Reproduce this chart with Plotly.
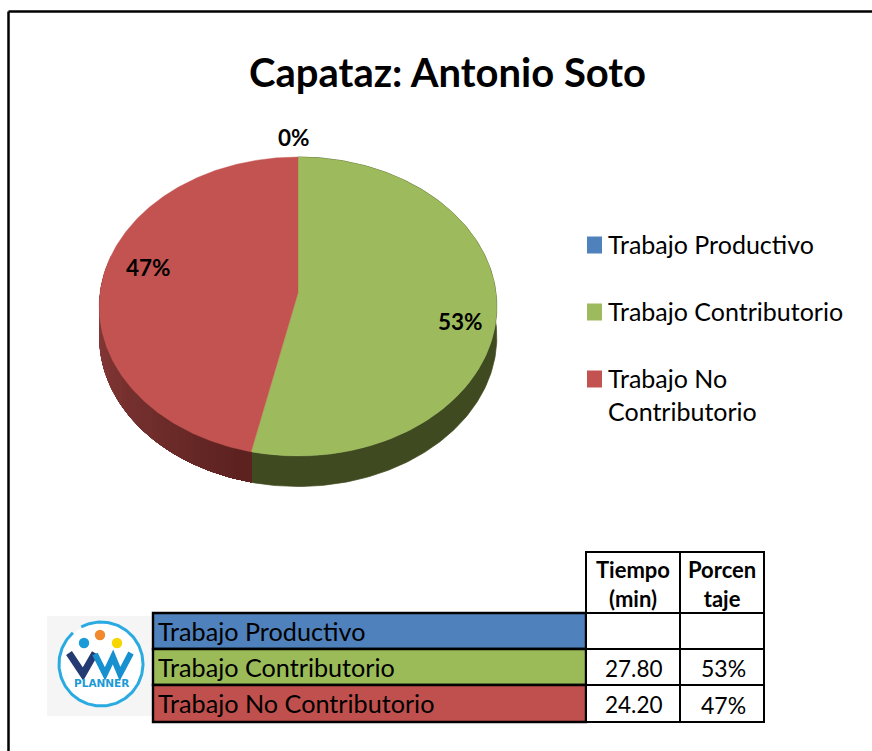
import numpy as np
import plotly.graph_objects as go

# ---------- data ----------
TITLE = "Capataz: Antonio Soto"
categories = ["Trabajo Productivo", "Trabajo Contributorio", "Trabajo No Contributorio"]
tiempo_min = [0.0, 27.80, 24.20]
tiempo_labels = ["", "27.80", "24.20"]
porcentaje_labels = ["", "53%", "47%"]
header_tiempo = "Tiempo<br>(min)"
header_porcentaje = "Porcen<br>taje"

# ---------- style / layout ----------
W, H = 872, 751
FONT = "Lato"
BLUE, GREEN, RED = "#4f81bd", "#9dbb5c", "#c25350"
TABLE_FILLS = ["#4f81bd", "#9bbb59", "#c0504d"]
CX, RX, TOP, APEX, BOTTOM, DEPTH = 298.0, 198.0, 157.0, 293.0, 456.0, 30.5

# projective map of a unit disc onto the tilted pie top
k = (2 * APEX - (BOTTOM + TOP)) / (BOTTOM - TOP)
A = BOTTOM * (1 + k) - APEX


def project(theta_deg, r=1.0):
    t = np.radians(theta_deg)
    u, v = r * np.sin(t), -r * np.cos(t)
    d = 1 + k * v
    return CX + RX * u / d, (A * v + APEX) / d


def lerp_color(stops, f):
    pos = np.linspace(0, 1, len(stops))
    rgb = [np.interp(f, pos, [s[i] for s in stops]) for i in range(3)]
    return "rgb(%d,%d,%d)" % tuple(rgb)


fig = go.Figure()


def polygon(x, y, color, name, lw=0.7):
    fig.add_trace(go.Scatter(
        x=x, y=y, mode="lines", fill="toself", fillcolor=color,
        line=dict(color=color, width=lw), name=name,
        hoverinfo="name", showlegend=False))


total = sum(tiempo_min)
angles = np.cumsum([0.0] + tiempo_min) / total * 360.0
green_a, green_b = angles[1], angles[2]
red_a, red_b = angles[2], angles[3]

# outer wall
ang = np.linspace(green_a, green_b, 200)
gx, gy = project(ang)
polygon(np.r_[gx, gx[::-1]], np.r_[gy, gy[::-1] + DEPTH], "#3f4a21", categories[1])

# red wall: each strip runs to the wall's far end and is overpainted by the next, so no seams
red_stops = [(140, 64, 62), (128, 54, 52), (112, 46, 44), (92, 34, 32)]
wall_end = min(red_b, 285)
edges = np.linspace(wall_end, red_a, 40)
for i in range(len(edges) - 1):
    ang = np.linspace(edges[i], red_a, 80)
    rx_, ry_ = project(ang)
    polygon(np.r_[rx_, rx_[::-1]], np.r_[ry_, ry_[::-1] + DEPTH],
            lerp_color(red_stops, i / (len(edges) - 2)), categories[2], lw=0)

# top faces
for a, b, col, name in [(green_a, green_b, GREEN, categories[1]),
                        (red_a, red_b, RED, categories[2])]:
    ang = np.linspace(a, b, 300)
    px, py = project(ang)
    polygon(np.r_[CX, px, CX], np.r_[APEX, py, APEX], col, name, lw=0.4)

shapes, ann = [], []


def rect(x0, y0, x1, y1, fill=None, line=None, lw=0, layer="above"):
    shapes.append(dict(type="rect", xref="x", yref="y", x0=x0, y0=y0, x1=x1, y1=y1, layer=layer,
                       fillcolor=fill or "rgba(0,0,0,0)",
                       line=dict(color=line or "rgba(0,0,0,0)", width=lw)))


def text(x, y, s, size, bold=False, anchor="center", color="#000000", va="middle", family=FONT):
    ann.append(dict(x=x, y=y, xref="x", yref="y", text=f"<b>{s}</b>" if bold else s,
                    showarrow=False, xanchor=anchor, yanchor=va, align=anchor,
                    font=dict(family=family, size=size, color=color)))


# page frame (open on the right and bottom)
for x0, y0, x1, y1 in [(8.5, 11.5, W + 5, 11.5), (8.5, 11.5, 8.5, H + 5)]:
    shapes.append(dict(type="line", xref="x", yref="y", x0=x0, y0=y0, x1=x1, y1=y1,
                       line=dict(color="#000000", width=2.5)))

text(447, 72, TITLE, 40, bold=True)

# data labels
label_pos = [(294, 137), (460, 321), (148, 267)]
for (lx, ly), v in zip(label_pos, tiempo_min):
    text(lx, ly, f"{v / total * 100:.0f}%", 22.5, bold=True)

# legend
legend_rows = [(245, categories[0]), (312, categories[1]),
               (379, "Trabajo No<br>Contributorio")]
for (ly, lab), col in zip(legend_rows, [BLUE, GREEN, RED]):
    rect(587, ly - 8.5, 602, ly + 8.5, fill=col)
    text(606, ly - 18, lab, 25, anchor="left", va="top")

# table
xs_left, xs_mid, xs_r1, xs_r2 = 153, 586, 680, 764
y_head, y_rows = 552, [613, 649, 685, 722]
for i, col in enumerate(TABLE_FILLS):
    rect(xs_left, y_rows[i], xs_mid, y_rows[i + 1], fill=col, line="#000000", lw=2.4)
    rect(xs_mid, y_rows[i], xs_r1, y_rows[i + 1], fill="#ffffff", line="#000000", lw=2)
    rect(xs_r1, y_rows[i], xs_r2, y_rows[i + 1], fill="#ffffff", line="#000000", lw=2)
    mid = (y_rows[i] + y_rows[i + 1]) / 2
    text(xs_left + 3, mid - 0.5, categories[i], 25.2, anchor="left")
    if tiempo_labels[i]:
        text((xs_mid + xs_r1) / 2 + 0.5, mid + 1, tiempo_labels[i], 22.5)
    if porcentaje_labels[i]:
        text((xs_r1 + xs_r2) / 2 + 1, mid + 1, porcentaje_labels[i], 23)
rect(xs_mid, y_head, xs_r1, y_rows[0], fill="#ffffff", line="#000000", lw=2)
rect(xs_r1, y_head, xs_r2, y_rows[0], fill="#ffffff", line="#000000", lw=2)
text((xs_mid + xs_r1) / 2 - 0.5, (y_head + y_rows[0]) / 2 + 1, header_tiempo, 22, bold=True)
text((xs_r1 + xs_r2) / 2, (y_head + y_rows[0]) / 2 + 1, header_porcentaje, 22, bold=True)

# logo
rect(47, 616, 152, 716, fill="#f5f5f5", layer="below")
shapes.append(dict(type="circle", xref="x", yref="y", x0=60, y0=623, x1=142, y1=705, layer="below",
                   fillcolor="#ffffff", line=dict(width=0)))
ring = np.radians(np.linspace(-28, 318, 180))
fig.add_trace(go.Scatter(x=101 + 42 * np.sin(ring), y=664 - 42 * np.cos(ring), mode="lines",
                         line=dict(color="#29abe2", width=3), hoverinfo="skip", showlegend=False))
for cx, cy, col in [(84, 643, "#1a9ad6"), (100, 635, "#f08a2c"), (117, 643, "#f7d600")]:
    shapes.append(dict(type="circle", xref="x", yref="y", x0=cx - 5.2, y0=cy - 5.2,
                       x1=cx + 5.2, y1=cy + 5.2, fillcolor=col, line=dict(width=0)))
shapes.append(dict(type="path", xref="x", yref="y", path="M 69 653 L 83 674 L 95 653",
                   line=dict(color="#243a73", width=7), fillcolor="rgba(0,0,0,0)"))
shapes.append(dict(type="path", xref="x", yref="y",
                   path="M 95 654 L 105 674 L 113 657 L 120 674 L 131 653",
                   line=dict(color="#1790d0", width=6), fillcolor="rgba(0,0,0,0)"))
text(101, 683, "PLANNER", 10.5, bold=True, color="#1a9ad6", family="DejaVu Sans")

fig.update_layout(
    width=W, height=H, margin=dict(l=0, r=0, t=0, b=0, pad=0),
    paper_bgcolor="#ffffff", plot_bgcolor="rgba(0,0,0,0)", showlegend=False,
    xaxis=dict(range=[0, W], visible=False, fixedrange=True),
    yaxis=dict(range=[H, 0], visible=False, fixedrange=True),
    shapes=shapes, annotations=ann,
)

fig.write_html("out.html", config={"displayModeBar": False},
               post_script="document.body.style.margin='0';document.body.style.overflow='hidden';")
